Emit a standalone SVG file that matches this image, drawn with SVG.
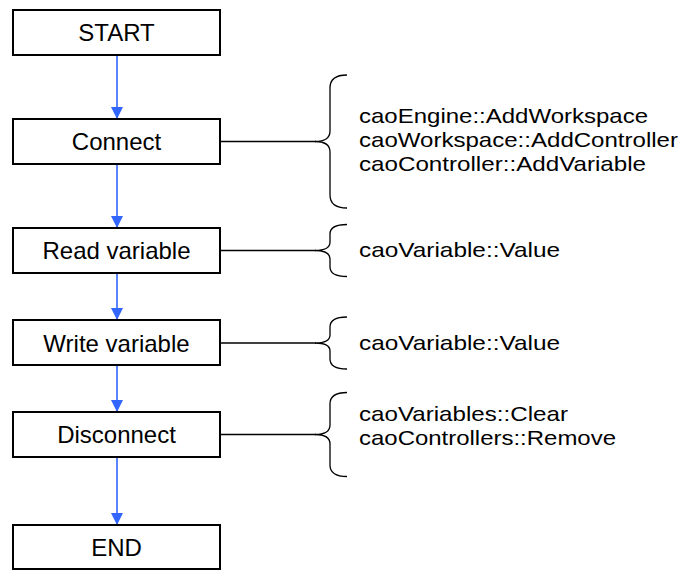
<svg xmlns="http://www.w3.org/2000/svg" width="684" height="570" viewBox="0 0 684 570">
<defs>
<style>
.box{fill:#fff;stroke:#000;stroke-width:2}
.lbl{font-family:"Liberation Sans",Arial,sans-serif;font-size:24px;fill:#000}
.note{font-family:"Liberation Sans",Arial,sans-serif;font-size:20.8px;fill:#000}
.ctr{text-anchor:middle}
.flow{stroke:#3366ff;stroke-width:1.6;fill:none}
.link{stroke:#000;stroke-width:1.3;fill:none}
</style>
<marker id="ah" viewBox="0 0 12 12" refX="12" refY="6" markerWidth="12" markerHeight="12" markerUnits="userSpaceOnUse" orient="auto">
<path d="M0,0 L12,6 L0,12 Z" fill="#3366ff"/>
</marker>
</defs>
<rect width="684" height="570" fill="#fff"/>
<g id="connectors">
<line class="flow" x1="117" y1="56" x2="117" y2="119" marker-end="url(#ah)"/>
<line class="flow" x1="117" y1="165" x2="117" y2="228" marker-end="url(#ah)"/>
<line class="flow" x1="117" y1="274" x2="117" y2="320" marker-end="url(#ah)"/>
<line class="flow" x1="117" y1="366" x2="117" y2="412" marker-end="url(#ah)"/>
<line class="flow" x1="117" y1="458" x2="117" y2="525" marker-end="url(#ah)"/>
<line class="link" x1="221" y1="141.5" x2="316" y2="141.5"/>
<line class="link" x1="221" y1="250.5" x2="316" y2="250.5"/>
<line class="link" x1="221" y1="343" x2="316" y2="343"/>
<line class="link" x1="221" y1="434.5" x2="316" y2="434.5"/>
</g>
<g id="start"><rect class="box" x="13" y="10" width="207" height="45"/><text class="lbl ctr" x="116.5" y="41">START</text></g>
<g id="connect"><rect class="box" x="13" y="119" width="207" height="45"/><text class="lbl ctr" x="116.5" y="150">Connect</text></g>
<g id="read"><rect class="box" x="13" y="228" width="207" height="45"/><text class="lbl ctr" x="116.5" y="259">Read variable</text></g>
<g id="write"><rect class="box" x="13" y="320" width="207" height="45"/><text class="lbl ctr" x="116.5" y="351.5">Write variable</text></g>
<g id="disconnect"><rect class="box" x="13" y="412" width="207" height="45"/><text class="lbl ctr" x="116.5" y="443">Disconnect</text></g>
<g id="end"><rect class="box" x="13" y="525" width="207" height="44"/><text class="lbl ctr" x="116.5" y="555.5">END</text></g>
<g id="note-connect">
<path class="link" d="M347,75 Q330,75 330,88 L330,131 Q330,141.5 315,141.5 Q330,141.5 330,152 L330,195 Q330,208 347,208"/>
<text class="note" x="359" y="123" textLength="289" lengthAdjust="spacingAndGlyphs">caoEngine::AddWorkspace</text>
<text class="note" x="359" y="147" textLength="319" lengthAdjust="spacingAndGlyphs">caoWorkspace::AddController</text>
<text class="note" x="359" y="171" textLength="287" lengthAdjust="spacingAndGlyphs">caoController::AddVariable</text>
</g>
<g id="note-read">
<path class="link" d="M347,224.5 Q330,224.5 330,234 L330,242 Q330,250.5 315,250.5 Q330,250.5 330,259 L330,267 Q330,276.5 347,276.5"/>
<text class="note" x="359" y="257" textLength="201" lengthAdjust="spacingAndGlyphs">caoVariable::Value</text>
</g>
<g id="note-write">
<path class="link" d="M347,317 Q330,317 330,327 L330,335 Q330,343 315,343 Q330,343 330,351 L330,359 Q330,369 347,369"/>
<text class="note" x="359" y="349.5" textLength="201" lengthAdjust="spacingAndGlyphs">caoVariable::Value</text>
</g>
<g id="note-disconnect">
<path class="link" d="M347,392.5 Q330,392.5 330,404 L330,425 Q330,434.5 315,434.5 Q330,434.5 330,444 L330,465 Q330,476.5 347,476.5"/>
<text class="note" x="359" y="421" textLength="209" lengthAdjust="spacingAndGlyphs">caoVariables::Clear</text>
<text class="note" x="359" y="445" textLength="257" lengthAdjust="spacingAndGlyphs">caoControllers::Remove</text>
</g>
</svg>
